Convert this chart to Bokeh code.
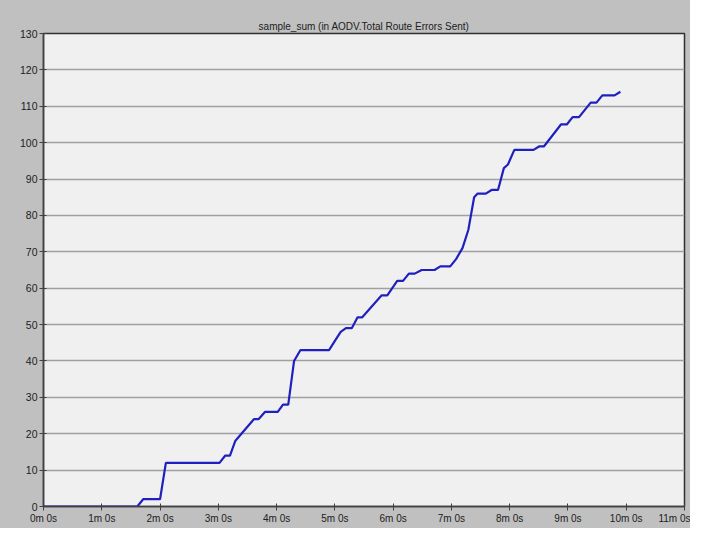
from bokeh.plotting import figure
from bokeh.models import Range1d, FixedTicker
from bokeh.embed import file_html
from bokeh.resources import INLINE

# time in minutes, value = sample_sum of route errors sent
time_min = [0.0, 1.61, 1.71, 2.0, 2.1, 3.02, 3.12, 3.2, 3.29, 3.61, 3.69, 3.8,
            4.02, 4.11, 4.2, 4.3, 4.41, 4.9, 5.02, 5.1, 5.19, 5.29, 5.39, 5.47,
            5.8, 5.9, 6.07, 6.17, 6.27, 6.37, 6.49, 6.71, 6.81, 6.98, 7.08, 7.19,
            7.29, 7.39, 7.45, 7.59, 7.69, 7.8, 7.9, 7.97, 8.08, 8.41, 8.51, 8.59,
            8.88, 8.98, 9.08, 9.19, 9.39, 9.49, 9.59, 9.8, 9.9]
errors_sent = [0, 0, 2, 2, 12, 12, 14, 14, 18, 24, 24, 26,
               26, 28, 28, 40, 43, 43, 46, 48, 49, 49, 52, 52,
               58, 58, 62, 62, 64, 64, 65, 65, 66, 66, 68, 71,
               76, 85, 86, 86, 87, 87, 93, 94, 98, 98, 99, 99,
               105, 105, 107, 107, 111, 111, 113, 113, 114]

x_ticks = list(range(0, 12))
x_tick_labels = ["0m 0s", "1m 0s", "2m 0s", "3m 0s", "4m 0s", "5m 0s",
                 "6m 0s", "7m 0s", "8m 0s", "9m 0s", "10m 0s", "11m 0s"]
y_ticks = list(range(0, 131, 10))

p = figure(width=690, height=528, output_backend="svg", toolbar_location=None,
           x_range=Range1d(0, 11), y_range=Range1d(0, 130),
           min_border_left=43, min_border_right=6, min_border_top=33,
           min_border_bottom=22,
           title="sample_sum (in AODV.Total Route Errors Sent)")

p.border_fill_color = "#c0c0c0"
p.styles = {"background-color": "#c0c0c0"}
p.background_fill_color = "#f0f0f0"
p.outline_line_color = "#303030"
p.outline_line_width = 1.5

p.title.align = "center"
p.title.text_font = "Liberation Sans"
p.title.text_font_style = "normal"
p.title.text_font_size = "10px"
p.title.text_color = "#202020"
p.title.standoff = 3

p.line(time_min, errors_sent, line_color="#2020c0", line_width=2.2)

p.xaxis.ticker = FixedTicker(ticks=x_ticks)
p.xaxis.major_label_overrides = {t: l for t, l in zip(x_ticks, x_tick_labels)}
p.yaxis.ticker = FixedTicker(ticks=y_ticks)

for ax in (p.xaxis[0], p.yaxis[0]):
    ax.axis_line_color = "#404040"
    ax.axis_line_width = 1.5
    ax.major_tick_line_color = "#404040"
    ax.major_tick_in = 3
    ax.major_tick_out = 4
    ax.minor_tick_line_color = None
    ax.major_label_text_font = "Liberation Sans"
    ax.major_label_text_font_size = "10px"
    ax.major_label_text_color = "#202020"
    ax.major_label_standoff = 2

p.yaxis.major_label_text_font_size = "10.5px"

p.xgrid.grid_line_color = None
p.ygrid.grid_line_color = "#a0a0a0"
p.ygrid.grid_line_width = 1.5

open("out.html", "w").write(file_html(p, INLINE))
